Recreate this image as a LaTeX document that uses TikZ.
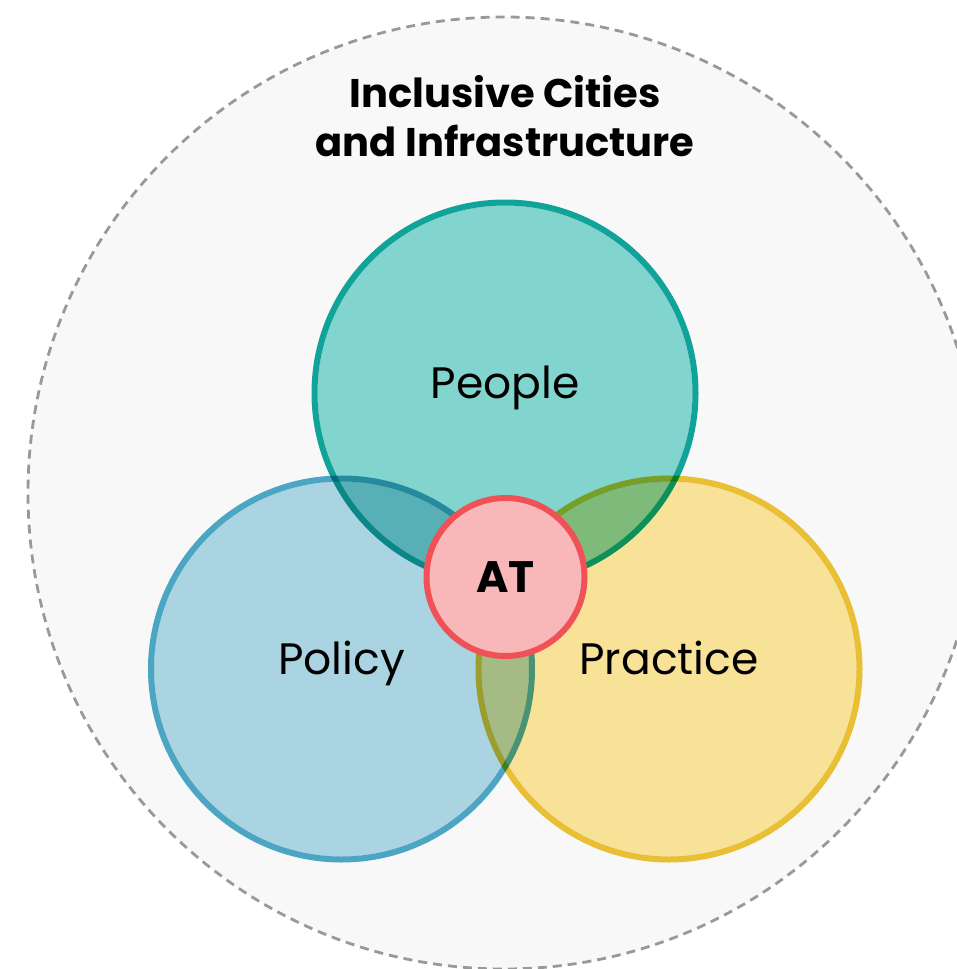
\documentclass[tikz,border=0pt]{standalone}
\usepackage{fontspec}
\setmainfont{Poppins}
\definecolor{bgcol}{HTML}{F8F8F8}
\definecolor{dashcol}{HTML}{999999}
\definecolor{peoplefill}{HTML}{82D4CE}
\definecolor{peopleline}{HTML}{0FA39A}
\definecolor{policyfill}{HTML}{AAD4E2}
\definecolor{policyline}{HTML}{4BA6C4}
\definecolor{practicefill}{HTML}{F8E298}
\definecolor{practiceline}{HTML}{E9BF33}
\definecolor{atfill}{HTML}{F8B8B9}
\definecolor{atline}{HTML}{EF5157}
\begin{document}
\begin{tikzpicture}[x=1pt,y=-1pt,
  venn/.style={circle, minimum size=381pt, inner sep=0pt, line width=6pt},
  lbl/.style={font=\fontsize{44}{50}\selectfont, anchor=base, inner sep=0pt}]
\useasboundingbox (0,0) rectangle (957,969);
\clip (0,0) rectangle (957,969);
\draw [dashcol, line width=2.8pt, dash pattern=on 9pt off 6pt, fill=bgcol] (504,493) circle (476);
\node [font=\bfseries\fontsize{40}{49}\selectfont, align=center, anchor=north] (title) at (505,72) {Inclusive Cities\\and Infrastructure};
\begin{scope}[blend group=multiply]
\node [venn, draw=policyline] (policy) at (341.5,669) {};
\node [venn, draw=practiceline] (practice) at (669,669) {};
\node [venn, draw=peopleline] (people) at (505,393) {};
\fill [policyfill] (policy.center) circle (187.5);
\fill [practicefill] (practice.center) circle (187.5);
\fill [peoplefill] (people.center) circle (187.5);
\end{scope}
\node [lbl] (peopletxt) at ([yshift=-5.5pt]people.center) {People};
\node [lbl] (policytxt) at ([yshift=-5.5pt]policy.center) {Policy};
\node [lbl] (practicetxt) at ([yshift=-5.5pt]practice.center) {Practice};
\node [circle, minimum size=158pt, inner sep=0pt, line width=6pt, draw=atline, fill=atfill,
  font=\bfseries\fontsize{44}{50}\selectfont] (at) at (505.5,577) {AT};
\end{tikzpicture}
\end{document}
